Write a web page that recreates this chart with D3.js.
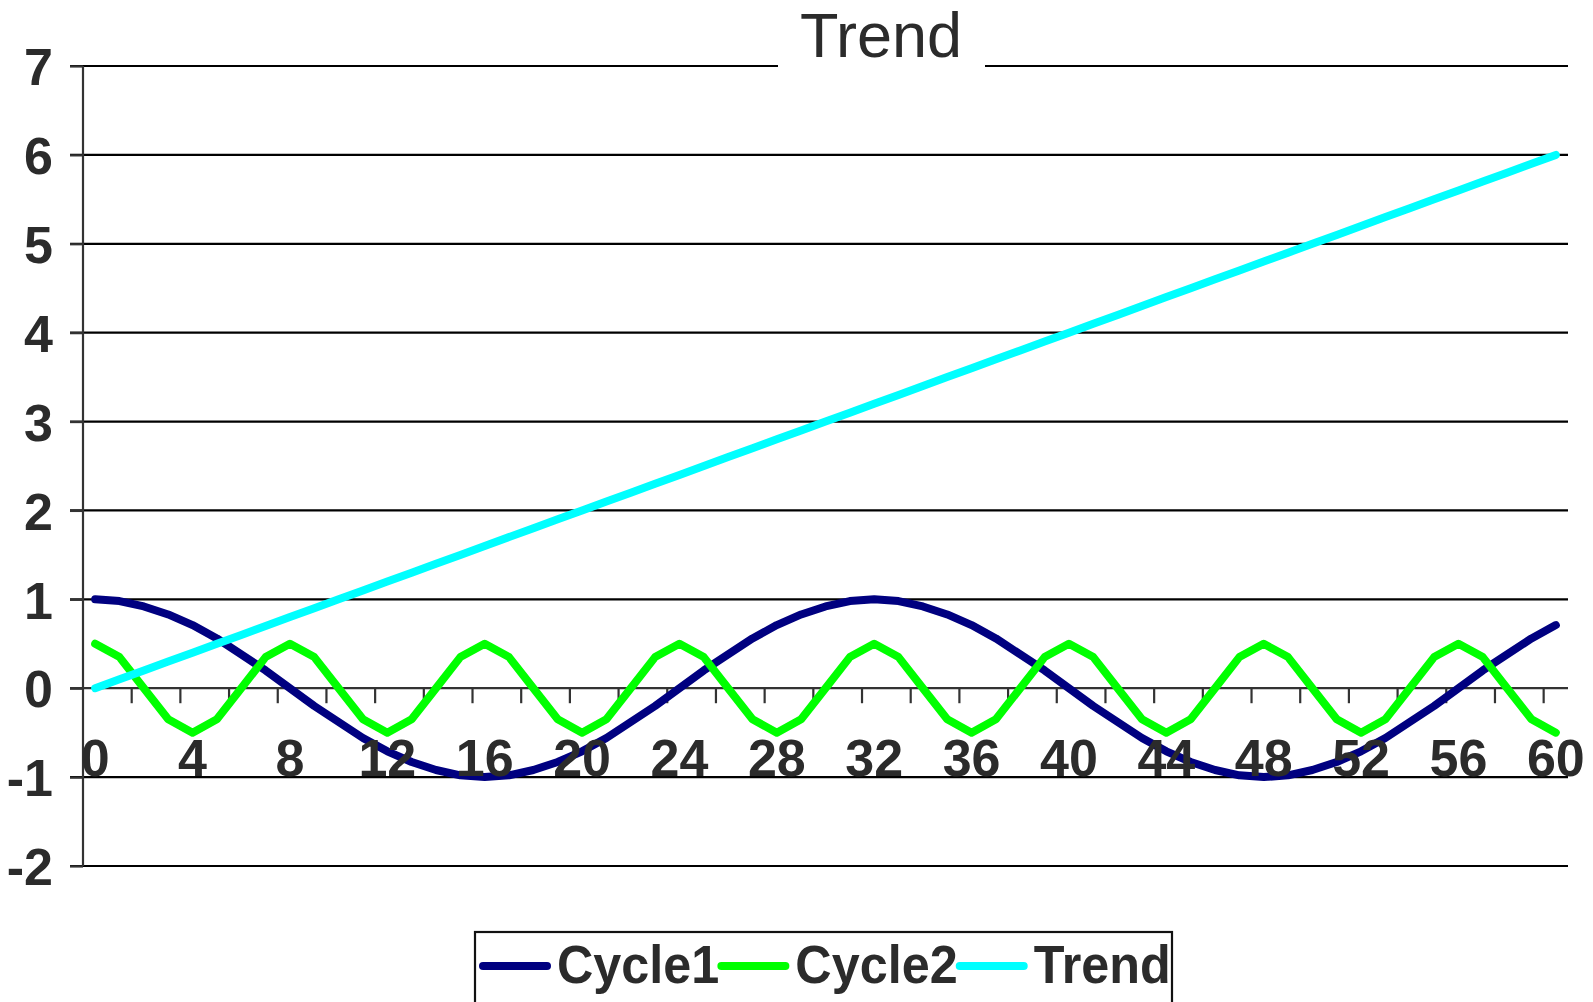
<!DOCTYPE html>
<html><head><meta charset="utf-8">
<script src="https://cdn.jsdelivr.net/npm/d3@7"></script>
<style>
html,body{margin:0;padding:0;background:#fff;}
svg{display:block;font-family:"Liberation Sans",Arial,sans-serif;}
</style></head>
<body>
<svg id="chart" width="1593" height="1002"></svg>
<script>
const categories = d3.range(0, 61);
const cycle1 = [1,0.98,0.92,0.83,0.71,0.56,0.38,0.2,0,-0.2,-0.38,-0.56,-0.71,-0.83,-0.92,-0.98,
  -1,-0.98,-0.92,-0.83,-0.71,-0.56,-0.38,-0.2,0,0.2,0.38,0.56,0.71,0.83,0.92,0.98,
  1,0.98,0.92,0.83,0.71,0.56,0.38,0.2,0,-0.2,-0.38,-0.56,-0.71,-0.83,-0.92,-0.98,
  -1,-0.98,-0.92,-0.83,-0.71,-0.56,-0.38,-0.2,0,0.2,0.38,0.56,0.71];
const cycle2 = [0.5,0.35,0,-0.35,-0.5,-0.35,0,0.35,0.5,0.35,0,-0.35,-0.5,-0.35,0,0.35,
  0.5,0.35,0,-0.35,-0.5,-0.35,0,0.35,0.5,0.35,0,-0.35,-0.5,-0.35,0,0.35,
  0.5,0.35,0,-0.35,-0.5,-0.35,0,0.35,0.5,0.35,0,-0.35,-0.5,-0.35,0,0.35,
  0.5,0.35,0,-0.35,-0.5,-0.35,0,0.35,0.5,0.35,0,-0.35,-0.5];
const trend = [0,0.1,0.2,0.3,0.4,0.5,0.6,0.7,0.8,0.9,1,1.1,1.2,1.3,1.4,1.5,1.6,1.7,1.8,1.9,
  2,2.1,2.2,2.3,2.4,2.5,2.6,2.7,2.8,2.9,3,3.1,3.2,3.3,3.4,3.5,3.6,3.7,3.8,3.9,
  4,4.1,4.2,4.3,4.4,4.5,4.6,4.7,4.8,4.9,5,5.1,5.2,5.3,5.4,5.5,5.6,5.7,5.8,5.9,6];
const yTicks = [-2,-1,0,1,2,3,4,5,6,7];
const xTickLabels = [0,4,8,12,16,20,24,28,32,36,40,44,48,52,56,60];
const seriesNames = ["Cycle1","Cycle2","Trend"];
const seriesColors = ["#000080","#00ff00","#00ffff"];
const seriesData = [cycle1, cycle2, trend];
const titleText = "Trend";

(function () {
const svg = d3.select("#chart");
const pLeft = 83, pRight = 1568, pTop = 66, pBottom = 866;
const x = d3.scalePoint().domain(categories).range([pLeft, pRight]).padding(0.5);
const y = d3.scaleLinear().domain([-2, 7]).range([pBottom, pTop]);
const step = x.step();
const textColor = "#2b2b2b";

// gridlines
svg.append("g").selectAll("line").data(yTicks.filter(d => d !== 0)).join("line")
  .attr("x1", pLeft - 13).attr("x2", pRight)
  .attr("y1", d => y(d)).attr("y2", d => y(d))
  .attr("stroke", "#000").attr("stroke-width", 2.2);

// y axis
const yAxis = d3.axisLeft(y).tickValues(yTicks).tickSize(13).tickFormat(d => String(d));
const gy = svg.append("g").attr("transform", `translate(${pLeft},0)`).call(yAxis);
gy.select(".domain").attr("stroke", "#333").attr("stroke-width", 2.2).attr("d", `M0,${pTop}V${pBottom}`);
gy.selectAll(".tick line").attr("stroke", "#333").attr("stroke-width", 2.2);
gy.selectAll(".tick text").attr("x", -30).attr("dy", "0.36em")
  .attr("font-size", 52).attr("font-weight", "bold").attr("fill", textColor)
  .attr("font-family", "'Liberation Sans',Arial,sans-serif");

// x axis line at zero
svg.append("line").attr("x1", pLeft - 13).attr("x2", pRight)
  .attr("y1", y(0)).attr("y2", y(0)).attr("stroke", "#333").attr("stroke-width", 2.2);
// tick marks at category boundaries every 2 categories
const tickPos = d3.range(2, 61, 2).map(k => pLeft + k * step);
svg.append("g").selectAll("line").data(tickPos).join("line")
  .attr("x1", d => d).attr("x2", d => d)
  .attr("y1", y(0)).attr("y2", y(0) + 15)
  .attr("stroke", "#333").attr("stroke-width", 2.2);

// series
const line = d3.line().x((d, i) => x(categories[i])).y(d => y(d));
svg.append("g").selectAll("path").data(seriesData).join("path")
  .attr("d", d => line(d))
  .attr("fill", "none")
  .attr("stroke", (d, i) => seriesColors[i])
  .attr("stroke-width", 8)
  .attr("stroke-linejoin", "round")
  .attr("stroke-linecap", "round");

// x labels (drawn above lines)
svg.append("g").selectAll("text").data(xTickLabels).join("text")
  .attr("x", d => x(d)).attr("y", 776)
  .attr("text-anchor", "middle")
  .attr("font-size", 52).attr("font-weight", "bold").attr("fill", textColor)
  .text(d => d);

// title
const tg = svg.append("g");
tg.append("rect").attr("x", 778).attr("y", 0).attr("width", 207).attr("height", 80).attr("fill", "#fff");
tg.append("text").attr("x", 881).attr("y", 57).attr("text-anchor", "middle")
  .attr("font-size", 63).attr("fill", textColor).text(titleText);

// legend
const lg = svg.append("g");
lg.append("rect").attr("x", 475).attr("y", 932).attr("width", 697).attr("height", 100)
  .attr("fill", "#fff").attr("stroke", "#111").attr("stroke-width", 2.2);
let cx = 483;
const sx = 0.95;
seriesNames.forEach((name, i) => {
  lg.append("line").attr("x1", cx).attr("x2", cx + 64).attr("y1", 966).attr("y2", 966)
    .attr("stroke", seriesColors[i]).attr("stroke-width", 8).attr("stroke-linecap", "round");
  const t = lg.append("text").attr("transform", `translate(${cx + 74},983) scale(${sx},1)`)
    .attr("font-size", 53).attr("font-weight", "bold").attr("fill", textColor).text(name);
  const w = t.node().getComputedTextLength() * sx;
  cx = cx + 74 + w + 2;
});
})();
</script>
</body></html>
